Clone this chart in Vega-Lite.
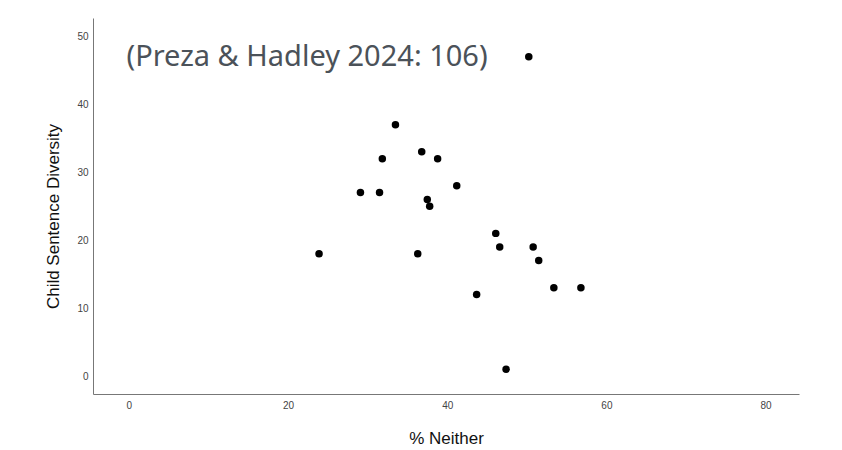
{
  "$schema": "https://vega.github.io/schema/vega-lite/v6.json",
  "width": 706,
  "height": 376,
  "autosize": {"type": "none"},
  "padding": {"left": 93, "top": 18, "right": 43, "bottom": 56},
  "background": "white",
  "config": {"view": {"stroke": null}},
  "datasets": {
    "points": [
      {"neither": 33.5, "diversity": 37},
      {"neither": 31.85, "diversity": 32},
      {"neither": 36.8, "diversity": 33},
      {"neither": 38.8, "diversity": 32},
      {"neither": 29.1, "diversity": 27},
      {"neither": 31.5, "diversity": 27},
      {"neither": 41.2, "diversity": 28},
      {"neither": 37.5, "diversity": 26},
      {"neither": 37.8, "diversity": 25},
      {"neither": 46.1, "diversity": 21},
      {"neither": 46.6, "diversity": 19},
      {"neither": 50.8, "diversity": 19},
      {"neither": 51.5, "diversity": 17},
      {"neither": 23.9, "diversity": 18},
      {"neither": 36.3, "diversity": 18},
      {"neither": 53.4, "diversity": 13},
      {"neither": 56.8, "diversity": 13},
      {"neither": 43.7, "diversity": 12},
      {"neither": 47.4, "diversity": 1},
      {"neither": 50.25, "diversity": 47}
    ],
    "note": [
      {"neither": -0.3, "diversity": 47, "label": "(Preza & Hadley 2024: 106)"}
    ]
  },
  "layer": [
    {
      "data": {"name": "points"},
      "mark": {"type": "circle", "size": 56, "color": "black", "opacity": 1},
      "encoding": {
        "x": {
          "field": "neither", "type": "quantitative",
          "scale": {"domain": [-4.5, 84.2], "nice": false, "zero": false},
          "axis": {
            "title": "% Neither",
            "values": [0, 20, 40, 60, 80],
            "grid": false, "ticks": false,
            "domainColor": "#777777", "domainWidth": 1,
            "labelFont": "Liberation Sans", "labelFontSize": 10, "labelColor": "#444444",
            "labelPadding": 6,
            "titleFont": "Liberation Sans", "titleFontSize": 17, "titleFontWeight": "normal", "titleColor": "#111111",
            "titleY": 49, "titleBaseline": "alphabetic"
          }
        },
        "y": {
          "field": "diversity", "type": "quantitative",
          "scale": {"domain": [-2.64, 52.7], "nice": false, "zero": false},
          "axis": {
            "title": "Child Sentence Diversity",
            "values": [0, 10, 20, 30, 40, 50],
            "grid": false, "ticks": false,
            "domainColor": "#777777", "domainWidth": 1,
            "labelFont": "Liberation Sans", "labelFontSize": 10, "labelColor": "#444444",
            "labelPadding": 5,
            "titleFont": "Liberation Sans", "titleFontSize": 17, "titleFontWeight": "normal", "titleColor": "#111111",
            "titleX": -40, "titleY": 198, "titleBaseline": "middle", "titleAngle": -90
          }
        }
      }
    },
    {
      "data": {"name": "note"},
      "mark": {"type": "text", "align": "left", "baseline": "middle", "font": "Noto Sans", "fontSize": 29, "color": "#4b5259"},
      "encoding": {
        "x": {"field": "neither", "type": "quantitative"},
        "y": {"field": "diversity", "type": "quantitative"},
        "text": {"field": "label"}
      }
    }
  ]
}
